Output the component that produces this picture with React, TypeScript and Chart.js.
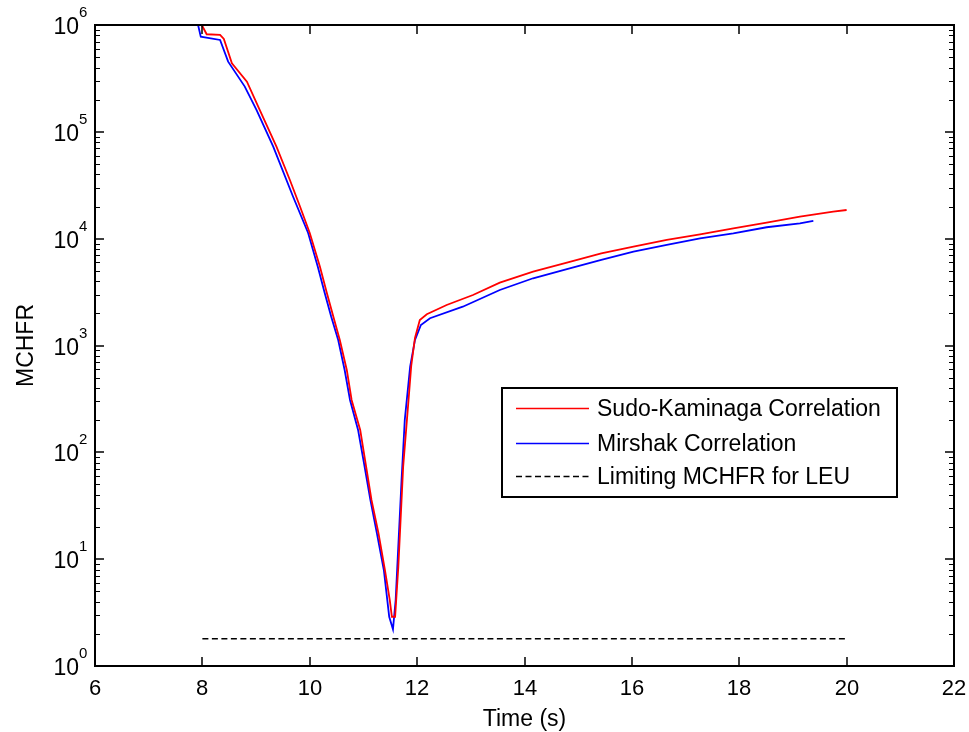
import React, { useEffect, useRef } from "react";
import { Chart, registerables } from "chart.js";

Chart.register(...registerables);

// ---- data ----
const sudoTime = [
  7.95, 7.99, 8.08, 8.33, 8.4, 8.55, 8.83, 9.07, 9.38, 9.63, 9.82, 10.0, 10.19, 10.32, 10.44,
  10.56, 10.69, 10.78, 10.94, 11.03, 11.15, 11.28, 11.4, 11.49, 11.53, 11.59, 11.65, 11.74,
  11.84, 11.89, 11.96, 12.05, 12.18, 12.55, 13.04, 13.54, 14.16, 14.79, 15.43, 16.03, 16.65,
  17.27, 17.89, 18.51, 19.13, 19.75, 20.0,
];
const sudoValue = [
  1.1e6, 1.0e6, 8.19e5, 8.07e5, 7.4e5, 4.38e5, 2.95e5, 1.6e5, 7.26e4, 3.54e4, 1.99e4, 1.13e4,
  5470, 3080, 1860, 1127, 590, 309, 162, 84.8, 35.8, 17.5, 7.92, 4.15, 2.89, 2.89, 8.5, 73.4,
  309, 643, 1176, 1733, 1960, 2395, 2970, 3870, 4910, 5960, 7300, 8410, 9720, 10990, 12500,
  14100, 16070, 17900, 18550,
];

const mirshakTime = [
  7.9, 7.92, 7.97, 8.33, 8.48, 8.79, 9.01, 9.32, 9.69, 9.97, 10.15, 10.28, 10.4, 10.53, 10.65,
  10.75, 10.9, 11.0, 11.13, 11.25, 11.38, 11.48, 11.55, 11.6, 11.71, 11.77, 11.87, 11.96, 12.07,
  12.24, 12.85, 13.54, 14.16, 14.79, 15.43, 16.03, 16.65, 17.27, 17.89, 18.51, 19.13, 19.38,
];
const mirshakValue = [
  1.1e6, 1.0e6, 7.78e5, 7.24e5, 4.54e5, 2.65e5, 1.6e5, 7.26e4, 2.47e4, 1.13e4, 5470, 3080, 1860,
  1127, 590, 309, 162, 84.8, 35.8, 17.5, 7.92, 2.89, 2.21, 4.15, 55.1, 201, 634, 1127, 1556, 1799,
  2307, 3310, 4260, 5200, 6320, 7550, 8730, 10080, 11220, 12790, 13930, 14650,
];

const limitTime = [8, 20];
const limitValue = [1.8, 1.8];

const seriesLabels = ["Sudo-Kaminaga Correlation", "Mirshak Correlation", "Limiting MCHFR for LEU"];
const xTicks = [6, 8, 10, 12, 14, 16, 18, 20, 22];
const yExponents = [0, 1, 2, 3, 4, 5, 6];
const xTitle = "Time (s)";
const yTitle = "MCHFR";

const FONT = "'Liberation Sans', Arial, Helvetica, sans-serif";

const zip = (xs: number[], ys: number[]) => xs.map((x, i) => ({ x, y: ys[i] }));

const framePlugin = {
  id: "matlabFrame",
  afterDraw(chart: any) {
    const { ctx, chartArea } = chart;
    const { left, right, top, bottom } = chartArea;
    const xs = chart.scales.x;
    const ys = chart.scales.y;
    ctx.save();
    ctx.strokeStyle = "#000";
    ctx.fillStyle = "#000";
    ctx.lineWidth = 2;
    ctx.strokeRect(left, top, right - left, bottom - top);

    // x ticks
    ctx.lineWidth = 1.5;
    ctx.font = `22px ${FONT}`;
    ctx.textAlign = "center";
    ctx.textBaseline = "alphabetic";
    xTicks.forEach((v) => {
      const px = Math.round(xs.getPixelForValue(v));
      ctx.beginPath();
      ctx.moveTo(px, bottom);
      ctx.lineTo(px, bottom - 9);
      ctx.moveTo(px, top);
      ctx.lineTo(px, top + 9);
      ctx.stroke();
      ctx.fillText(String(v), px, bottom + 29);
    });

    // y ticks (log)
    yExponents.forEach((e) => {
      const py = Math.round(ys.getPixelForValue(Math.pow(10, e)));
      ctx.lineWidth = 1.5;
      ctx.beginPath();
      ctx.moveTo(left, py);
      ctx.lineTo(left + 9, py);
      ctx.moveTo(right, py);
      ctx.lineTo(right - 9, py);
      ctx.stroke();
      if (e < yExponents[yExponents.length - 1]) {
        ctx.lineWidth = 1.2;
        for (let m = 2; m <= 9; m++) {
          const pm = Math.round(ys.getPixelForValue(m * Math.pow(10, e))) + 0.5;
          ctx.beginPath();
          ctx.moveTo(left, pm);
          ctx.lineTo(left + 5, pm);
          ctx.moveTo(right, pm);
          ctx.lineTo(right - 5, pm);
          ctx.stroke();
        }
      }
      ctx.font = `23px ${FONT}`;
      ctx.textAlign = "right";
      ctx.fillText("10", left - 16, py + 9);
      ctx.font = `15px ${FONT}`;
      ctx.textAlign = "left";
      ctx.fillText(String(e), left - 16, py - 8);
    });

    // axis titles
    ctx.font = `23px ${FONT}`;
    ctx.textAlign = "center";
    ctx.textBaseline = "alphabetic";
    ctx.fillText(xTitle, (left + right) / 2, bottom + 60);
    ctx.save();
    ctx.translate(33, (top + bottom) / 2);
    ctx.rotate(-Math.PI / 2);
    ctx.fillText(yTitle, 0, 0);
    ctx.restore();

    // legend
    const lx = 502, ly = 388, lw = 395, lh = 109;
    ctx.fillStyle = "#fff";
    ctx.fillRect(lx, ly, lw, lh);
    ctx.strokeStyle = "#000";
    ctx.lineWidth = 2;
    ctx.strokeRect(lx, ly, lw, lh);
    const rows = [408, 443, 476];
    chart.data.datasets.forEach((ds: any, i: number) => {
      const y = rows[i] + 0.5;
      ctx.beginPath();
      ctx.strokeStyle = ds.borderColor;
      ctx.lineWidth = 1.5;
      ctx.setLineDash(ds.borderDash || []);
      ctx.moveTo(516, y);
      ctx.lineTo(589, y);
      ctx.stroke();
      ctx.setLineDash([]);
      ctx.fillStyle = "#000";
      ctx.font = `23px ${FONT}`;
      ctx.textAlign = "left";
      ctx.textBaseline = "middle";
      ctx.fillText(ds.label, 597, y + 1);
    });
    ctx.restore();
  },
};

export default function App() {
  const ref = useRef<HTMLCanvasElement | null>(null);
  useEffect(() => {
    document.body.style.margin = "0";
    const canvas = ref.current!;
    const chart = new Chart(canvas, {
      type: "line",
      data: {
        datasets: [
          {
            label: seriesLabels[0],
            data: zip(sudoTime, sudoValue),
            borderColor: "#ff0000",
            borderWidth: 1.8,
            pointRadius: 0,
            tension: 0,
          },
          {
            label: seriesLabels[1],
            data: zip(mirshakTime, mirshakValue),
            borderColor: "#0000ff",
            borderWidth: 1.8,
            pointRadius: 0,
            tension: 0,
          },
          {
            label: seriesLabels[2],
            data: zip(limitTime, limitValue),
            borderColor: "#000000",
            borderWidth: 1.5,
            borderDash: [6, 3.5],
            pointRadius: 0,
            tension: 0,
          },
        ],
      },
      options: {
        animation: false,
        responsive: false,
        devicePixelRatio: 1,
        layout: { padding: { left: 95, top: 25, right: 15, bottom: 66 } },
        plugins: { legend: { display: false }, tooltip: { enabled: false } },
        scales: {
          x: { type: "linear", min: 6, max: 22, display: false },
          y: { type: "logarithmic", min: 1, max: 1e6, display: false },
        },
      },
      plugins: [framePlugin],
    });
    return () => chart.destroy();
  }, []);
  return (
    <div style={{ width: 969, height: 732, background: "#fff" }}>
      <canvas ref={ref} width={969} height={732} style={{ display: "block" }} />
    </div>
  );
}
